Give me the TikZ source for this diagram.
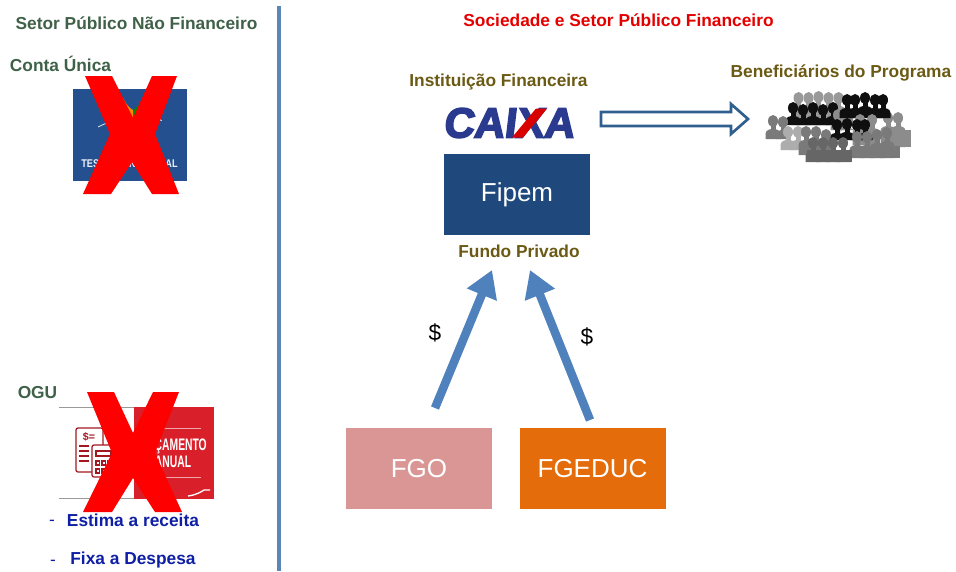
\documentclass[tikz,border=0pt]{standalone}
\usepackage{fontspec}
\setmainfont{Liberation Sans}
\newfontfamily\caixafont{Liberation Sans Bold}[FakeBold=4,FakeSlant=0.12]
\usetikzlibrary{arrows.meta,calc}
\definecolor{divblue}{HTML}{5B86B5}
\definecolor{greentxt}{HTML}{3F6148}
\definecolor{browntxt}{HTML}{6B5A14}
\definecolor{navytxt}{HTML}{0F1FA5}
\definecolor{fipemblue}{HTML}{1F497D}
\definecolor{tesblue}{HTML}{24508F}
\definecolor{fgopink}{HTML}{D99694}
\definecolor{fgeorange}{HTML}{E46C0A}
\definecolor{orcred}{HTML}{D9202A}
\definecolor{caixanavy}{HTML}{2A3B8F}
\definecolor{arrowblue}{HTML}{4F81BD}
\definecolor{arrowdark}{HTML}{2F5F8F}
\definecolor{gA}{gray}{.60}
\definecolor{gB}{gray}{.06}
\definecolor{gC}{gray}{.55}
\definecolor{gD}{gray}{.48}
\definecolor{gE}{gray}{.68}
\definecolor{gF}{gray}{.40}
\tikzset{
  lbl/.style={font=\fontsize{13pt}{15pt}\selectfont\bfseries, inner sep=0pt, anchor=center},
  greenlbl/.style={lbl,text=greentxt},
  brownlbl/.style={lbl,text=browntxt},
  navylbl/.style={lbl,text=navytxt},
  boxnode/.style={inner sep=0pt, minimum width=109.5pt, minimum height=60.75pt, text=white, font=\fontsize{19.5pt}{22pt}\selectfont},
  flow/.style={line width=6.4pt, draw=arrowblue, -{Triangle[length=20pt,width=23pt]}},
  bigx/.style={fill=red},
  money/.style={font=\fontsize{17pt}{19pt}\selectfont, inner sep=0pt}
}
\newcommand{\crowd}[3]{%
  \foreach \px/\py in {#3}{%
    \fill[#1] (\px,\py) ellipse (5 and 6);
    \fill[#1] (\px-2.5,\py+3) rectangle (\px+2.5,\py+9);
    \fill[#1] (\px-7.5,#2) -- (\px-7.5,\py+13) .. controls (\px-7.5,\py+9) and (\px-3,\py+8) .. (\px,\py+8)
      .. controls (\px+3,\py+8) and (\px+7.5,\py+9) .. (\px+7.5,\py+13) -- (\px+7.5,#2) -- cycle;
  }%
}
\begin{document}
\begin{tikzpicture}[x=0.75pt,y=-0.75pt]
\useasboundingbox (0,0) rectangle (956,571);
\fill[white] (0,0) rectangle (956,571);

% divider
\coordinate (divtop) at (279,6);
\coordinate (divbot) at (279,571);
\draw[divblue,line width=2.3pt] (divtop) -- (divbot);

% headings
\node[greenlbl] (setorpub) at (136.5,23) {Setor Público Não Financeiro};
\node[lbl,text=red!90!black] (sociedade) at (618.5,20) {Sociedade e Setor Público Financeiro};
\node[greenlbl] (conta) at (60.5,64) {Conta Única};
\node[greenlbl] (ogu) at (37.5,393) {OGU};
\node[brownlbl] (inst) at (498.5,82) {Instituição Financeira};
\node[brownlbl] (benef) at (841,73) {Beneficiários do Programa};
\node[brownlbl] (fundo) at (519,251) {Fundo Privado};

% Tesouro logo
\fill[tesblue] (72.5,88.5) rectangle (187,181);
\fill[orange!90!yellow] (123,98) .. controls (125,108) and (129,115) .. (133,119) -- (133,110) .. controls (129,108) and (126,104) .. (123,98) -- cycle;
\fill[green!55!black] (143,98) .. controls (141,108) and (137,115) .. (133,119) -- (133,110) .. controls (137,108) and (140,104) .. (143,98) -- cycle;
\draw[white!85!tesblue,line width=0.6pt] (98,127) -- (113,120);
\fill[white] (156,114) -- (162,121) -- (155,119) -- cycle;
\node[inner sep=0pt,text=white!92!tesblue,xscale=0.82,font=\fontsize{8.4pt}{10pt}\selectfont\bfseries] (tesouro) at (129.5,164) {TESOURO NACIONAL};
\fill[bigx] (85,76) -- (112,76) -- (133,118) -- (152,76) -- (177,76) -- (155,134) -- (179,194) -- (152,194) -- (132,162) -- (111,194) -- (83,194) -- (110,134) -- cycle;

% OGU image
\draw[gray!80,line width=0.5pt] (59,407) -- (134,407);
\draw[gray!80,line width=0.5pt] (59,498.5) -- (134,498.5);
\fill[orcred] (134,406.5) rectangle (214,499);
\draw[white!60!orcred,line width=0.4pt] (152,428) -- (201,428);
\draw[white!60!orcred,line width=0.4pt] (152,477) -- (201,477);
\draw[white,line width=1pt] (188,496) .. controls (196,495) and (201,492) .. (204,490) -- (210,490);
\begin{scope}[draw=orcred!75!black,line width=0.9pt]
  \draw[rounded corners=1.5pt] (76,428) rectangle (103,472);
  \node[inner sep=0pt,text=orcred!75!black,font=\fontsize{8pt}{9pt}\selectfont\bfseries] (docsign) at (89,437) {\$=};
  \foreach \ly in {446,451,456,461} \draw (79,\ly) -- (89,\ly);
  \draw[rounded corners=1.5pt,fill=white] (92,445) rectangle (115,477);
  \draw (96,451) rectangle (111,456);
  \foreach \ly in {461,469} \foreach \lx in {96,102,108} \draw (\lx,\ly) rectangle (\lx+3.5,\ly+4);
\end{scope}
\node[inner sep=0pt,text=white,align=center,xscale=0.62,font=\fontsize{12.5pt}{13pt}\selectfont\bfseries] (orctxt) at (173,453) {ORÇAMENTO\\ANUAL};
\fill[bigx] (87,392) -- (114,392) -- (133,433) -- (153,392) -- (179,392) -- (155,453) -- (182,512) -- (155,512) -- (133,478) -- (112,512) -- (83,512) -- (112,453) -- cycle;

\node[navylbl] (dash1) at (52,523) {\mdseries -};
\node[navylbl] (estima) at (133,520) {Estima a receita};
\node[navylbl] (dash2) at (53,563) {\mdseries -};
\node[navylbl] (fixa) at (133,560) {Fixa a Despesa};

% CAIXA logo
\node[inner sep=0pt,text=caixanavy,font=\fontsize{31.5pt}{34pt}\caixafont] (caixa) at (508.5,123) {CAIXA};
\fill[red!85!black] (536,108.5) -- (547,108.5) -- (523,137.5) -- (512,137.5) -- cycle;

% boxes
\node[boxnode,fill=fipemblue] (fipem) at (517,194.5) {Fipem};
\node[boxnode,fill=fgopink] (fgo) at (419,468.5) {FGO};
\node[boxnode,fill=fgeorange] (fgeduc) at (592.5,468.5) {FGEDUC};

% flows
\coordinate (fgotop) at (435,408);
\coordinate (fgedtop) at (590,420);
\coordinate (fundoL) at (492,270);
\coordinate (fundoR) at (530,270);
\draw[flow] (fgotop) -- (fundoL);
\draw[flow] (fgedtop) -- (fundoR);
\node[money] (d1) at (435,333) {\$};
\node[money] (d2) at (587,337) {\$};

% crowd
\crowd{gA}{125}{798.5/98,808.5/98,818.5/97,828.5/98,838.5/98}
\crowd{gC}{147}{888/118,898/118}
\fill[gC] (881,130) rectangle (911,147);
\crowd{gB}{125}{793/108,803/110,813/108,823/110,833/108}
\crowd{gC}{130}{838/115,848/120}
\crowd{gB}{118}{847/100,855/100,865/98,875/100,883/100}
\crowd{gC}{145}{860/120,872/120}
\crowd{gD}{139}{773/121,783/122}
\crowd{gB}{140}{837/125,847/124,857/125,865/125}
\crowd{gE}{150}{788/132,798/132}
\crowd{gD}{155}{806/132,816/132,826/135}
\crowd{gD}{158}{857/137,867/137,877/135,887/133}
\fill[gD] (852,146) rectangle (900,158);
\crowd{gF}{162}{813/143,823/143,833/143,843/143}
\fill[gF] (807,150) rectangle (852,162);

% hollow arrow
\coordinate (arrS) at (601,119);
\coordinate (arrE) at (748,119);
\draw[arrowdark,line width=2pt,fill=white,line join=miter]
  ($(arrS)+(0,-7)$) -- ($(arrE)+(-17,-7)$) -- ($(arrE)+(-17,-15)$) -- (arrE) -- ($(arrE)+(-17,15)$) -- ($(arrE)+(-17,7)$) -- ($(arrS)+(0,7)$) -- cycle;
\end{tikzpicture}
\end{document}
